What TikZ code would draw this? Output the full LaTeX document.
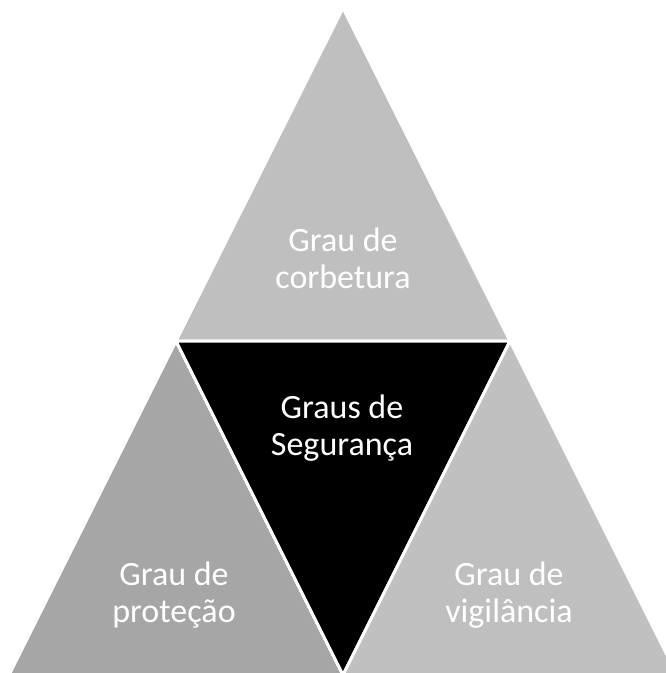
\documentclass[tikz,border=0pt]{standalone}
\usepackage{fontspec}
\setmainfont{Carlito}
\begin{document}
\begin{tikzpicture}[x=1pt,y=-1pt,
  tri/.style={draw=white,line width=3pt,line join=miter},
  lbl/.style={text=white,align=center,font=\fontsize{34}{37}\selectfont,inner sep=0pt}]
\useasboundingbox (0,0) rectangle (665,673);
\coordinate (A) at (343,8);
\coordinate (B) at (176,341);
\coordinate (C) at (510,341);
\coordinate (D) at (343,675);
\coordinate (E) at (9,675);
\coordinate (F) at (677,675);
\filldraw[tri,fill={rgb,255:red,191;green,191;blue,191}] (A) -- (B) -- (C) -- cycle;
\filldraw[tri,fill={rgb,255:red,166;green,166;blue,166}] (B) -- (E) -- (D) -- cycle;
\filldraw[tri,fill=black] (B) -- (C) -- (D) -- cycle;
\filldraw[tri,fill={rgb,255:red,191;green,191;blue,191}] (C) -- (D) -- (F) -- cycle;
\node[lbl,anchor=base] (top) at (343,288) {Grau de\\corbetura};
\node[lbl,anchor=base] (mid) at (342,455) {Graus de\\Segurança};
\node[lbl,anchor=base] (left) at (174,622) {Grau de\\proteção};
\node[lbl,anchor=base] (right) at (509,622) {Grau de\\vigilância};
\end{tikzpicture}
\end{document}
